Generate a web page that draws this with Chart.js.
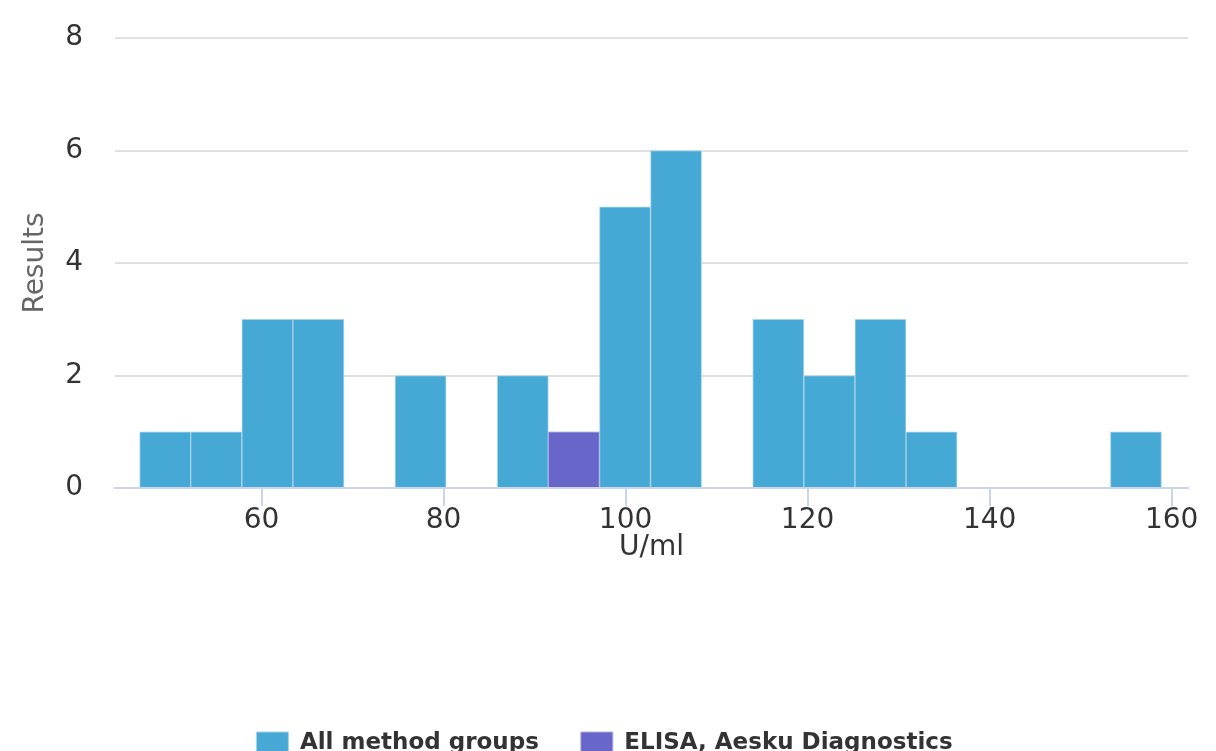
<!DOCTYPE html>
<html>
<head>
<meta charset="utf-8">
<script src="https://cdn.jsdelivr.net/npm/chart.js@4.4.0/dist/chart.umd.min.js"></script>
<style>
  html, body { margin: 0; padding: 0; overflow: hidden; background: #ffffff; }
  #wrap { position: relative; width: 1216px; height: 765px; }
</style>
</head>
<body>
<div id="wrap"><canvas id="histograma"></canvas></div>
<script>
const binCenters = [
  49.41, 55.02, 60.64, 66.25, 71.87, 77.48, 83.10, 88.71, 94.32, 99.94,
  105.55, 111.17, 116.78, 122.40, 128.01, 133.62, 139.24, 144.85, 150.47, 156.08
];
// Contagens de resultados por classe
const allGroupsCounts = [1, 1, 3, 3, 0, 2, 0, 2, 1, 5, 6, 0, 3, 2, 3, 1, 0, 0, 0, 1];
// ELISA, Aesku Diagnostics: apenas uma classe com resultado
const aeskuCenters = [94.32];
const aeskuCounts = [1];
const xTicks = [60, 80, 100, 120, 140, 160];
const yTicks = [0, 2, 4, 6, 8];

const seriesNames = ['All method groups', 'ELISA, Aesku Diagnostics'];
const FONT = 'DejaVu Sans';

function toPoints(xs, ys) {
  return xs.map((x, i) => ({ x: x, y: ys[i] }));
}

const ctx = document.getElementById('histograma').getContext('2d');
const chart = new Chart(ctx, {
  type: 'bar',
  data: {
    datasets: [
      {
        label: seriesNames[0],
        data: toPoints(binCenters, allGroupsCounts),
        backgroundColor: '#46a9d5',
        borderColor: '#a6d4eb',
        borderWidth: 1,
        order: 1
      },
      {
        label: seriesNames[1],
        data: toPoints(aeskuCenters, aeskuCounts),
        backgroundColor: '#6966c9',
        borderColor: '#aeace2',
        borderWidth: 1,
        order: 0
      }
    ]
  },
  options: {
    responsive: true,
    maintainAspectRatio: false,
    animation: false,
    layout: { padding: { top: 38, left: 21, right: 28, bottom: 0 } },
    datasets: {
      bar: { grouped: false, barPercentage: 1, categoryPercentage: 1 }
    },
    scales: {
      x: {
        type: 'linear',
        min: 43.9,
        max: 161.8,
        offset: false,
        afterBuildTicks: function(scale) {
          scale.ticks = xTicks.map(v => ({ value: v }));
        },
        afterFit: function(scale) { scale.height = 202; },
        grid: {
          offset: false,
          drawOnChartArea: false,
          drawTicks: true,
          tickLength: 18,
          color: '#ccd6eb',
          lineWidth: 2
        },
        border: { display: true, color: '#ccd6eb', width: 2 },
        ticks: {
          padding: -2,
          color: '#333333',
          font: { family: FONT, size: 28 },
          maxRotation: 0
        },
        title: {
          display: true,
          text: 'U/ml',
          color: '#333333',
          font: { family: FONT, size: 28 },
          padding: { top: 0, bottom: 125 }
        }
      },
      y: {
        min: 0,
        max: 8,
        afterBuildTicks: function(scale) {
          scale.ticks = yTicks.map(v => ({ value: v }));
        },
        afterFit: function(scale) { scale.width = 94; },
        grid: {
          color: '#e0e0e0',
          lineWidth: 2,
          drawTicks: true,
          tickLength: 30,
          tickColor: 'rgba(0,0,0,0)'
        },
        border: { display: false },
        ticks: {
          padding: 2,
          color: '#333333',
          font: { family: FONT, size: 28 }
        },
        title: {
          display: true,
          text: 'Results',
          color: '#666666',
          font: { family: FONT, size: 28 },
          padding: { top: -2, bottom: 0 }
        }
      }
    },
    plugins: {
      tooltip: { enabled: false },
      legend: {
        position: 'bottom',
        labels: {
          boxWidth: 32,
          boxHeight: 23,
          padding: 42,
          color: '#333333',
          font: { family: FONT, size: 23, weight: 'bold' },
          sort: (a, b) => a.datasetIndex - b.datasetIndex
        }
      }
    }
  }
});
</script>
</body>
</html>
